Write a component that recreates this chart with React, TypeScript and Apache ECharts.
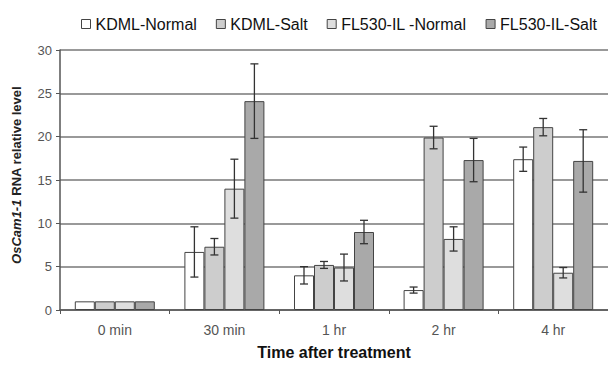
import React, { useEffect, useRef } from "react";
import * as echarts from "echarts";

const categories = ["0 min", "30 min", "1 hr", "2 hr", "4 hr"];
const seriesNames = ["KDML-Normal", "KDML-Salt", "FL530-IL -Normal", "FL530-IL-Salt"];
const kdmlNormal = [1.0, 6.7, 4.0, 2.3, 17.4];
const kdmlSalt = [1.0, 7.3, 5.2, 19.9, 21.1];
const flNormal = [1.0, 14.0, 4.9, 8.2, 4.3];
const flSalt = [1.0, 24.1, 9.0, 17.3, 17.2];
const kdmlNormalErr = [0, 2.9, 1.0, 0.35, 1.4];
const kdmlSaltErr = [0, 0.95, 0.4, 1.3, 1.0];
const flNormalErr = [0, 3.4, 1.55, 1.4, 0.6];
const flSaltErr = [0, 4.3, 1.35, 2.5, 3.6];
const yTicks = [0, 5, 10, 15, 20, 25, 30];

const values = [kdmlNormal, kdmlSalt, flNormal, flSalt];
const errors = [kdmlNormalErr, kdmlSaltErr, flNormalErr, flSaltErr];
const colors = ["#ffffff", "#cdcdcd", "#dedede", "#a9a9a9"];

export default function App() {
  const ref = useRef<HTMLDivElement>(null);
  useEffect(() => {
    if (!ref.current) return;
    const chart = echarts.init(ref.current, null, { renderer: "svg" });
    const barW = 20;
    const barSeries = values.map((vals, i) => ({
      name: seriesNames[i],
      type: "bar",
      data: vals,
      barWidth: barW,
      barGap: "0%",
      itemStyle: { color: colors[i], borderColor: "#444", borderWidth: 1 },
      z: 2,
    }));
    const errSeries = values.map((vals, i) => ({
      type: "custom",
      name: seriesNames[i] + " err",
      z: 5,
      silent: true,
      data: vals.map((v, j) => [j, v - errors[i][j], v + errors[i][j]]),
      renderItem: (params: any, api: any) => {
        const c = api.value(0);
        const lo = api.coord([c, api.value(1)]);
        const hi = api.coord([c, api.value(2)]);
        const x = lo[0] + (i - 1.5) * barW;
        if (api.value(2) - api.value(1) < 0.01) return null;
        const cap = 4;
        const style = { stroke: "#333", lineWidth: 1.3 };
        return {
          type: "group",
          children: [
            { type: "line", shape: { x1: x, y1: lo[1], x2: x, y2: hi[1] }, style },
            { type: "line", shape: { x1: x - cap, y1: lo[1], x2: x + cap, y2: lo[1] }, style },
            { type: "line", shape: { x1: x - cap, y1: hi[1], x2: x + cap, y2: hi[1] }, style },
          ],
        };
      },
    }));
    chart.setOption({
      animation: false,
      textStyle: { fontFamily: "Liberation Sans, Arial, sans-serif" },
      legend: {
        data: seriesNames,
        top: 11,
        left: 76,
        icon: "rect",
        itemWidth: 9,
        itemHeight: 9,
        itemGap: 19,
        textStyle: { fontSize: 16, color: "#111", fontFamily: "Liberation Sans" },
        itemStyle: { borderColor: "#444", borderWidth: 1 },
      },
      grid: { left: 60, top: 50, width: 552, height: 266 },
      xAxis: {
        type: "category",
        data: categories,
        name: "Time after treatment",
        nameLocation: "middle",
        nameGap: 34,
        nameTextStyle: { fontSize: 16, fontWeight: "bold", color: "#111", fontFamily: "Liberation Sans" },
        axisLine: { lineStyle: { color: "#555", width: 1.5 } },
        axisTick: { show: true, length: 4, lineStyle: { color: "#555" } },
        axisLabel: { fontSize: 14, color: "#555", margin: 13, fontFamily: "Liberation Sans" },
      },
      yAxis: {
        type: "value",
        min: 0,
        max: 30,
        interval: 5,
        name: "{i|OsCam1-1} RNA relative level",
        nameLocation: "middle",
        nameGap: 37,
        nameTextStyle: {
          fontSize: 13,
          fontWeight: "bold",
          color: "#222",
          fontFamily: "Liberation Sans",
          padding: [0, 0, 0, 10],
          rich: { i: { fontStyle: "italic", fontWeight: "bold", fontSize: 13, color: "#222", fontFamily: "Liberation Sans" } },
        },
        axisLine: { show: true, lineStyle: { color: "#555", width: 1.5 } },
        axisTick: { show: true, length: 4, inside: false, lineStyle: { color: "#555" } },
        axisLabel: {
          fontSize: 13,
          color: "#555",
          margin: 8,
          fontFamily: "Liberation Sans",
          formatter: (v: number) => (yTicks.includes(v) ? String(v) : ""),
        },
        splitLine: { show: true, lineStyle: { color: "#777", width: 1.5 } },
      },
      series: [...barSeries, ...errSeries],
    });
    return () => chart.dispose();
  }, []);
  return <div ref={ref} style={{ width: 608, height: 365, position: "absolute", left: 0, top: 0 }} />;
}
